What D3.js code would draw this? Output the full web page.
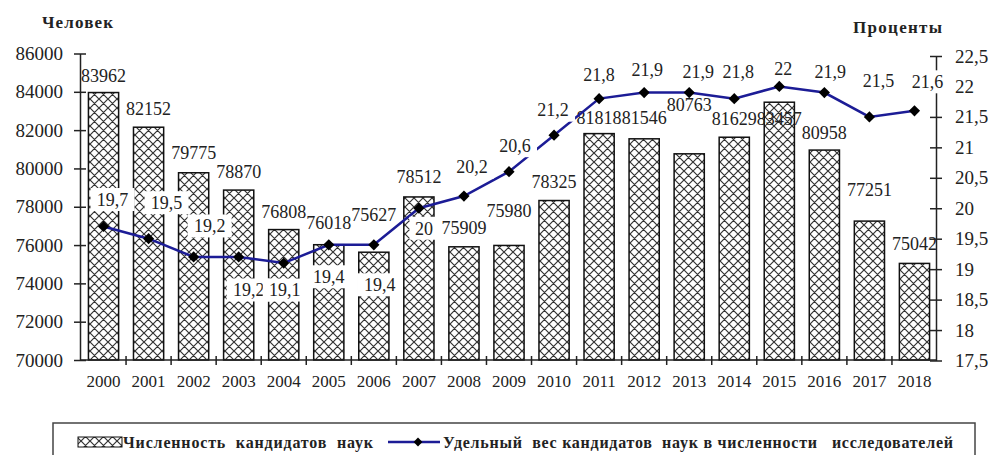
<!DOCTYPE html>
<html lang="ru">
<head>
<meta charset="UTF-8">
<title>Численность кандидатов наук</title>
<script src="https://cdn.jsdelivr.net/npm/d3@7"></script>
<style>
   body { margin: 0; background: #fff; }
   svg text { fill: #222; }
   .axis path, .axis line { stroke: #222; stroke-width: 1.5; }
   .bar { stroke: #111; stroke-width: 1.5; }
</style>
</head>
<body>
<div id="chart"></div>
<script>
   // data
   var years = ["2000","2001","2002","2003","2004","2005","2006","2007","2008","2009",
                "2010","2011","2012","2013","2014","2015","2016","2017","2018"];
   var candidates = [83962, 82152, 79775, 78870, 76808, 76018, 75627, 78512, 75909, 75980,
                     78325, 81818, 81546, 80763, 81629, 83457, 80958, 77251, 75042];
   var share = [19.7, 19.5, 19.2, 19.2, 19.1, 19.4, 19.4, 20, 20.2, 20.6,
                21.2, 21.8, 21.9, 21.9, 21.8, 22, 21.9, 21.5, 21.6];
   var leftTicks = [70000, 72000, 74000, 76000, 78000, 80000, 82000, 84000, 86000];
   var rightTicks = [17.5, 18, 18.5, 19, 19.5, 20, 20.5, 21, 21.5, 22, 22.5];
   var leftTitle = "Человек";
   var rightTitle = "Проценты";
   var barName = "Численность  кандидатов  наук";
   var lineName = "Удельный  вес кандидатов  наук в численности   исследователей";

   // hand placed label offsets (like in the original)
   var barLabelDy = [-17, -19, -20, -18, -18, -22, -38, -20, -19, -35, -19, -16, -21, -49, -19, 16, -17, -31, -20];
   var pctDx = [9, 18, 16, 10, 1, 0, 6, 5, 8, 6, -1, 0, 3, 9, 4, 4, 6, 9, 13];
   var pctDy = [-27, -36, -31, 33, 27, 32, 40, 20, -29, -26, -25, -24, -23, -21, -27, -18, -21, -36, -29];

   var serif = "'Liberation Serif', 'Times New Roman', Times, serif";
   var comma = function(v) { return String(v).replace(".", ","); };

   var svg = d3.select("#chart").append("svg").attr("width", 993).attr("height", 455)
      .attr("font-family", serif);

   var defs = svg.append("defs");
   var pat = defs.append("pattern").attr("id", "hatch")
      .attr("width", 9).attr("height", 9)
      .attr("patternUnits", "userSpaceOnUse");
   pat.append("rect").attr("width", 9).attr("height", 9).attr("fill", "#fff");
   pat.append("path").attr("d", "M0,0L9,9M9,0L0,9M-1,8L1,10M8,-1L10,1")
      .attr("stroke", "#333").attr("stroke-width", 1.2);

   var x = d3.scaleBand().domain(years).range([81, 937]).paddingInner(0.33).paddingOuter(0.165);
   var y = d3.scaleLinear().domain([70000, 86000]).range([360, 53.5]);
   var y2 = d3.scaleLinear().domain([17.5, 22.5]).range([360.5, 56]);

   // bars
   svg.selectAll(".bar")
      .data(candidates)
      .enter().append("rect")
      .attr("class", "bar")
      .attr("x", function(d, i) { return x(years[i]); })
      .attr("y", function(d) { return y(d); })
      .attr("width", x.bandwidth())
      .attr("height", function(d) { return y(70000) - y(d); })
      .attr("fill", "url(#hatch)");

   // bar labels
   svg.selectAll(".barlabel")
      .data(candidates)
      .enter().append("text")
      .attr("class", "barlabel")
      .attr("text-anchor", "middle")
      .attr("font-size", 18)
      .attr("x", function(d, i) { return x(years[i]) + x.bandwidth() / 2; })
      .attr("y", function(d, i) { return y(d) + barLabelDy[i]; })
      .attr("dy", "0.35em")
      .text(function(d) { return d; });

   // axes
   var gl = svg.append("g").attr("class", "axis")
      .attr("transform", "translate(80,0)")
      .call(d3.axisLeft(y).tickValues(leftTicks).tickSizeInner(6).tickSizeOuter(0).tickPadding(11).tickFormat(d3.format("d")));
   gl.selectAll(".tick line").attr("x1", 6);

   var gr = svg.append("g").attr("class", "axis")
      .attr("transform", "translate(936,0)")
      .call(d3.axisRight(y2).tickValues(rightTicks).tickSizeInner(6).tickSizeOuter(0).tickPadding(13).tickFormat(comma));
   gr.selectAll(".tick line").attr("x1", -6);

   var gx = svg.append("g").attr("class", "axis")
      .attr("transform", "translate(0,360)")
      .call(d3.axisBottom(x).tickSize(0).tickPadding(15));
   gx.select(".domain").attr("d", "M80,0H936");
   var half = x.step() * x.paddingInner() / 2;
   gx.selectAll(".sep")
      .data(years.slice(1))
      .enter().append("line")
      .attr("x1", function(d) { return x(d) - half; })
      .attr("x2", function(d) { return x(d) - half; })
      .attr("y1", -4).attr("y2", 5)
      .attr("stroke", "#222").attr("stroke-width", 1.5);

   gl.attr("font-family", serif).attr("font-size", 19);
   gr.attr("font-family", serif).attr("font-size", 19);
   gx.attr("font-family", serif).attr("font-size", 17);

   // line
   var line = d3.line()
      .x(function(d, i) { return x(years[i]) + x.bandwidth() / 2; })
      .y(function(d) { return y2(d); });

   svg.append("path")
      .datum(share)
      .attr("d", line)
      .attr("fill", "none")
      .attr("stroke", "#1c1c96")
      .attr("stroke-width", 2.5);

   svg.selectAll(".marker")
      .data(share)
      .enter().append("path")
      .attr("class", "marker")
      .attr("d", d3.symbol(d3.symbolDiamond2, 80))
      .attr("transform", function(d, i) {
         return "translate(" + (x(years[i]) + x.bandwidth() / 2) + "," + y2(d) + ")";
      })
      .attr("fill", "#000");

   // percent labels with white boxes
   var pl = svg.selectAll(".pct")
      .data(share)
      .enter().append("g")
      .attr("class", "pct")
      .attr("transform", function(d, i) {
         return "translate(" + (x(years[i]) + x.bandwidth() / 2 + pctDx[i]) + "," + (y2(d) + pctDy[i]) + ")";
      });
   pl.append("rect")
      .attr("x", function(d) { return -(comma(d).length * 7.5 + 14) / 2; })
      .attr("y", -11.5)
      .attr("width", function(d) { return comma(d).length * 7.5 + 14; })
      .attr("height", 23)
      .attr("fill", "#fff");
   pl.append("text")
      .attr("text-anchor", "middle")
      .attr("font-size", 18)
      .attr("dy", "0.35em")
      .text(comma);

   // axis titles
   svg.append("text").attr("x", 42).attr("y", 22).attr("dy", "0.35em")
      .attr("font-size", 17).attr("font-weight", "bold").attr("textLength", 71).text(leftTitle);
   svg.append("text").attr("x", 853).attr("y", 27).attr("dy", "0.35em")
      .attr("font-size", 17).attr("font-weight", "bold").attr("textLength", 89).text(rightTitle);

   // legend
   svg.append("rect").attr("x", 53).attr("y", 423).attr("width", 922).attr("height", 60)
      .attr("fill", "#fff").attr("stroke", "#444").attr("stroke-width", 1.5);
   svg.append("rect").attr("x", 78).attr("y", 437).attr("width", 44).attr("height", 10)
      .attr("fill", "url(#hatch)").attr("stroke", "#111").attr("stroke-width", 1);
   svg.append("text").attr("x", 123).attr("y", 442).attr("dy", "0.35em")
      .attr("font-size", 16).attr("font-weight", "bold").style("white-space", "pre")
      .attr("textLength", 250).text(barName);
   svg.append("line").attr("x1", 388).attr("x2", 440).attr("y1", 442).attr("y2", 442)
      .attr("stroke", "#1c1c96").attr("stroke-width", 2.5);
   svg.append("path").attr("d", d3.symbol(d3.symbolDiamond2, 50))
      .attr("transform", "translate(418,442)").attr("fill", "#000");
   svg.append("text").attr("x", 443).attr("y", 442).attr("dy", "0.35em")
      .attr("font-size", 16).attr("font-weight", "bold").style("white-space", "pre")
      .attr("textLength", 510).text(lineName);
</script>
</body>
</html>
